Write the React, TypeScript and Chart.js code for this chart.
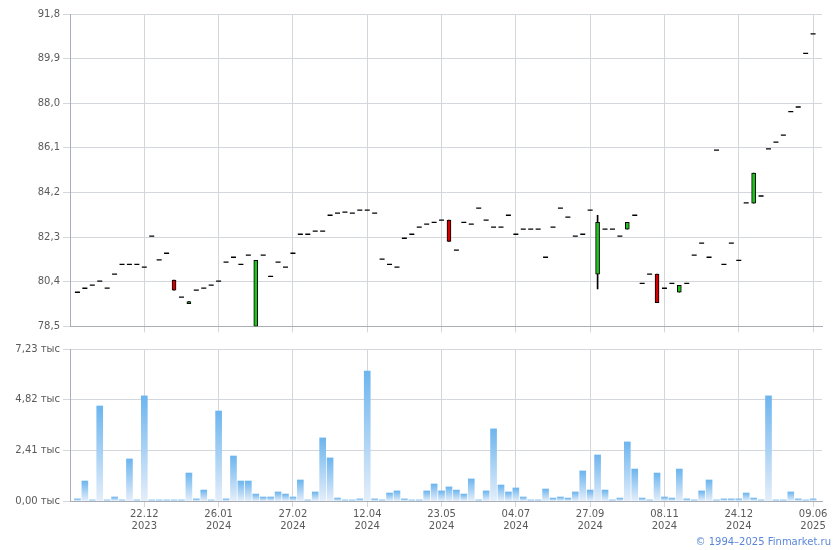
import React, { useEffect, useRef } from "react";
import { Chart, registerables } from "chart.js";

Chart.register(...registerables);

// ---- data (index = trading session) ----
const openPrices = [
  79.95, 80.12, 80.25, 80.42, 80.13, 80.72, 81.14, 81.14, 81.14, 81.02,
  82.34, 81.33, 81.61, 80.47, 79.74, 79.46, 80.04, 80.13, 80.25, 80.42,
  81.23, 81.44, 81.14, 81.53, 78.5, 81.53, 80.63, 81.23, 81.02, 81.61,
  82.42, 82.42, 82.55, 82.55, 83.23, 83.32, 83.36, 83.32, 83.45, 83.45,
  83.32, 81.36, 81.14, 81.02, 82.25, 82.42, 82.72, 82.85, 82.93, 83.02,
  83.02, 81.74, 82.93, 82.85, 83.53, 83.02, 82.72, 82.72, 83.23, 82.42,
  82.64, 82.64, 82.64, 81.44, 82.72, 83.53, 83.15, 82.34, 82.42, 83.45,
  80.72, 82.64, 82.64, 82.34, 82.64, 83.23, 80.33, 80.72, 80.72, 80.12,
  80.33, 79.95, 80.33, 81.53, 82.04, 81.44, 86.0, 81.14, 82.04, 81.31,
  83.76, 83.74, 84.05, 86.06, 86.34, 86.64, 87.64, 87.84, 90.12, 90.95,
];
const closePrices = [
  79.95, 80.12, 80.25, 80.42, 80.13, 80.72, 81.14, 81.14, 81.14, 81.02,
  82.34, 81.33, 81.61, 80.04, 79.74, 79.55, 80.04, 80.13, 80.25, 80.42,
  81.23, 81.44, 81.14, 81.53, 81.31, 81.53, 80.63, 81.23, 81.02, 81.61,
  82.42, 82.42, 82.55, 82.55, 83.23, 83.32, 83.36, 83.32, 83.45, 83.45,
  83.32, 81.36, 81.14, 81.02, 82.25, 82.42, 82.72, 82.85, 82.93, 83.02,
  82.12, 81.74, 82.93, 82.85, 83.53, 83.02, 82.72, 82.72, 83.23, 82.42,
  82.64, 82.64, 82.64, 81.44, 82.72, 83.53, 83.15, 82.34, 82.42, 83.45,
  82.93, 82.64, 82.64, 82.34, 82.93, 83.23, 80.33, 80.72, 79.51, 80.12,
  80.33, 80.25, 80.33, 81.53, 82.04, 81.44, 86.0, 81.14, 82.04, 81.31,
  83.76, 85.02, 84.05, 86.06, 86.34, 86.64, 87.64, 87.84, 90.12, 90.95,
];
const highPrices = [
  79.95, 80.12, 80.25, 80.42, 80.13, 80.72, 81.14, 81.14, 81.14, 81.02,
  82.34, 81.33, 81.61, 80.47, 79.74, 79.55, 80.04, 80.13, 80.25, 80.42,
  81.23, 81.44, 81.14, 81.53, 81.31, 81.53, 80.63, 81.23, 81.02, 81.61,
  82.42, 82.42, 82.55, 82.55, 83.23, 83.32, 83.36, 83.32, 83.45, 83.45,
  83.32, 81.36, 81.14, 81.02, 82.25, 82.42, 82.72, 82.85, 82.93, 83.02,
  83.02, 81.74, 82.93, 82.85, 83.53, 83.02, 82.72, 82.72, 83.23, 82.42,
  82.64, 82.64, 82.64, 81.44, 82.72, 83.53, 83.15, 82.34, 82.42, 83.45,
  83.23, 82.64, 82.64, 82.34, 82.93, 83.23, 80.33, 80.72, 80.72, 80.12,
  80.33, 80.25, 80.33, 81.53, 82.04, 81.44, 86.0, 81.14, 82.04, 81.31,
  83.76, 85.02, 84.05, 86.06, 86.34, 86.64, 87.64, 87.84, 90.12, 90.95,
];
const lowPrices = [
  79.95, 80.12, 80.25, 80.42, 80.13, 80.72, 81.14, 81.14, 81.14, 81.02,
  82.34, 81.33, 81.61, 80.04, 79.74, 79.46, 80.04, 80.13, 80.25, 80.42,
  81.23, 81.44, 81.14, 81.53, 78.5, 81.53, 80.63, 81.23, 81.02, 81.61,
  82.42, 82.42, 82.55, 82.55, 83.23, 83.32, 83.36, 83.32, 83.45, 83.45,
  83.32, 81.36, 81.14, 81.02, 82.25, 82.42, 82.72, 82.85, 82.93, 83.02,
  82.12, 81.74, 82.93, 82.85, 83.53, 83.02, 82.72, 82.72, 83.23, 82.42,
  82.64, 82.64, 82.64, 81.44, 82.72, 83.53, 83.15, 82.34, 82.42, 83.45,
  80.09, 82.64, 82.64, 82.34, 82.64, 83.23, 80.33, 80.72, 79.51, 80.12,
  80.33, 79.95, 80.33, 81.53, 82.04, 81.44, 86.0, 81.14, 82.04, 81.31,
  83.76, 83.74, 84.05, 86.06, 86.34, 86.64, 87.64, 87.84, 90.12, 90.95,
];
// volume, thousands
const volumes = [
  0.1, 0.95, 0.05, 4.52, 0.05, 0.19, 0.05, 2.0, 0.05, 5.0,
  0.05, 0.05, 0.05, 0.05, 0.05, 1.33, 0.1, 0.52, 0.05, 4.28,
  0.1, 2.14, 0.95, 0.95, 0.33, 0.19, 0.19, 0.43, 0.33, 0.19,
  1.0, 0.05, 0.43, 3.0, 2.05, 0.14, 0.05, 0.05, 0.1, 6.18,
  0.1, 0.05, 0.38, 0.48, 0.1, 0.05, 0.05, 0.48, 0.81, 0.48,
  0.67, 0.52, 0.33, 1.05, 0.05, 0.48, 3.43, 0.76, 0.43, 0.62,
  0.19, 0.05, 0.05, 0.57, 0.14, 0.19, 0.14, 0.43, 1.43, 0.52,
  2.19, 0.52, 0.05, 0.14, 2.81, 1.52, 0.14, 0.05, 1.33, 0.19,
  0.14, 1.52, 0.1, 0.05, 0.48, 1.0, 0.05, 0.1, 0.1, 0.1,
  0.38, 0.14, 0.05, 5.0, 0.05, 0.05, 0.43, 0.1, 0.05, 0.1,
];
const tickIndices = [9, 19, 29, 39, 49, 59, 69, 79, 89, 99];
const tickDays = ["22.12", "26.01", "27.02", "12.04", "23.05", "04.07", "27.09", "08.11", "24.12", "09.06"];
const tickYears = ["2023", "2024", "2024", "2024", "2024", "2024", "2024", "2024", "2024", "2025"];
const priceTicks = [78.5, 80.4, 82.3, 84.2, 86.1, 88.0, 89.9, 91.8];
const volumeTicks = [0, 2.41, 4.82, 7.23];

// ---- styles ----
const FONT = { family: "'DejaVu Sans', Verdana, sans-serif", size: 10 };
const GRID = "#d3d7dc";
const AXIS = "#a9aeb6";
const LABEL = "#5a5a5a";
const UP = "#1fc21f";
const DOWN = "#d40000";

function xAxis(showLabels: boolean, height: number) {
  return {
    type: "linear" as const,
    min: -1,
    max: 100.2,
    offset: false,
    afterBuildTicks: (s: any) => {
      s.ticks = tickIndices.map((v) => ({ value: v }));
    },
    afterFit: (s: any) => {
      s.height = height;
    },
    ticks: {
      display: showLabels,
      autoSkip: false,
      maxRotation: 0,
      minRotation: 0,
      padding: 1,
      font: FONT,
      color: LABEL,
      callback: (_v: any, i: number) => [tickDays[i], tickYears[i]],
    },
    grid: { color: GRID, tickLength: 6, drawTicks: true, offset: false },
    border: { color: AXIS },
  };
}

export default function App() {
  const priceRef = useRef<HTMLCanvasElement | null>(null);
  const volRef = useRef<HTMLCanvasElement | null>(null);

  useEffect(() => {
    const idx = openPrices.map((_, i) => i);
    const flat = idx.filter((i) => openPrices[i] === closePrices[i]);
    const bodies = idx.filter((i) => openPrices[i] !== closePrices[i]);

    const priceChart = new Chart(priceRef.current as HTMLCanvasElement, {
      type: "bar",
      data: {
        datasets: [
          {
            type: "scatter",
            data: flat.map((i) => ({ x: i, y: closePrices[i] })),
            pointStyle: "line",
            pointRadius: 2.5,
            pointBorderColor: "#000",
            pointBorderWidth: 1.3,
            borderColor: "#000",
            order: 0,
          } as any,
          {
            type: "bar",
            data: bodies.map((i) => ({
              x: i,
              y: [Math.min(openPrices[i], closePrices[i]), Math.max(openPrices[i], closePrices[i])],
            })),
            backgroundColor: bodies.map((i) => (closePrices[i] >= openPrices[i] ? UP : DOWN)),
            borderColor: "#000",
            borderWidth: 1,
            borderSkipped: false,
            barThickness: 4,
            grouped: false,
            order: 1,
          } as any,
          {
            type: "bar",
            data: bodies.map((i) => ({ x: i, y: [lowPrices[i], highPrices[i]] })),
            backgroundColor: "#000",
            borderWidth: 0,
            barThickness: 1,
            grouped: false,
            order: 2,
          } as any,
        ],
      },
      options: {
        responsive: false,
        animation: false,
        events: [],
        layout: { autoPadding: false, padding: { top: 14, right: 18, bottom: 0, left: 0 } } as any,
        plugins: { legend: { display: false }, tooltip: { enabled: false } },
        scales: {
          x: xAxis(false, 13.7) as any,
          y: {
            type: "linear",
            min: 78.5,
            max: 91.8,
            afterBuildTicks: (s: any) => {
              s.ticks = priceTicks.map((v) => ({ value: v }));
            },
            afterFit: (s: any) => {
              s.width = 70;
            },
            ticks: {
              font: FONT,
              color: LABEL,
              padding: 3,
              callback: (v: any) => Number(v).toFixed(1).replace(".", ","),
            },
            grid: { color: GRID, tickLength: 7 },
            border: { color: AXIS },
          } as any,
        },
      },
    });

    const volChart = new Chart(volRef.current as HTMLCanvasElement, {
      type: "bar",
      data: {
        datasets: [
          {
            data: volumes.map((v, i) => ({ x: i, y: v })),
            barThickness: 6,
            borderWidth: 0,
            backgroundColor: (ctx: any) => {
              const chart = ctx.chart;
              if (!chart.chartArea || ctx.type !== "data" || !ctx.parsed) return "#9fcdf3";
              const ys = chart.scales.y;
              const top = ys.getPixelForValue(ctx.parsed.y);
              const base = ys.getPixelForValue(0);
              if (!(base - top > 0.5)) return "#a9d2f4";
              const g = chart.ctx.createLinearGradient(0, top, 0, base);
              g.addColorStop(0, "#6db5ee");
              g.addColorStop(1, "#e4eefa");
              return g;
            },
          } as any,
        ],
      },
      options: {
        responsive: false,
        animation: false,
        events: [],
        layout: { autoPadding: false, padding: { top: 9, right: 18, bottom: 0, left: 0 } } as any,
        plugins: { legend: { display: false }, tooltip: { enabled: false } },
        scales: {
          x: xAxis(true, 49) as any,
          y: {
            type: "linear",
            min: 0,
            max: 7.23,
            afterBuildTicks: (s: any) => {
              s.ticks = volumeTicks.map((v) => ({ value: v }));
            },
            afterFit: (s: any) => {
              s.width = 70;
            },
            ticks: {
              font: FONT,
              color: LABEL,
              padding: 3,
              callback: (v: any) => Number(v).toFixed(2).replace(".", ",") + " тыс",
            },
            grid: { color: GRID, tickLength: 7 },
            border: { color: AXIS },
          } as any,
        },
      },
    });

    return () => {
      priceChart.destroy();
      volChart.destroy();
    };
  }, []);

  return (
    <div style={{ position: "absolute", left: 0, top: 0, width: 840, height: 550, background: "#fff" }}>
      <canvas ref={priceRef} width={840} height={340} style={{ position: "absolute", left: 0, top: 0 }} />
      <canvas ref={volRef} width={840} height={210} style={{ position: "absolute", left: 0, top: 340 }} />
      <div
        style={{
          position: "absolute",
          right: 9,
          top: 536,
          font: "10px 'DejaVu Sans', Verdana, sans-serif",
          lineHeight: "12px",
          color: "#5a86d8",
          whiteSpace: "nowrap",
        }}
      >
        © 1994–2025 Finmarket.ru
      </div>
    </div>
  );
}
